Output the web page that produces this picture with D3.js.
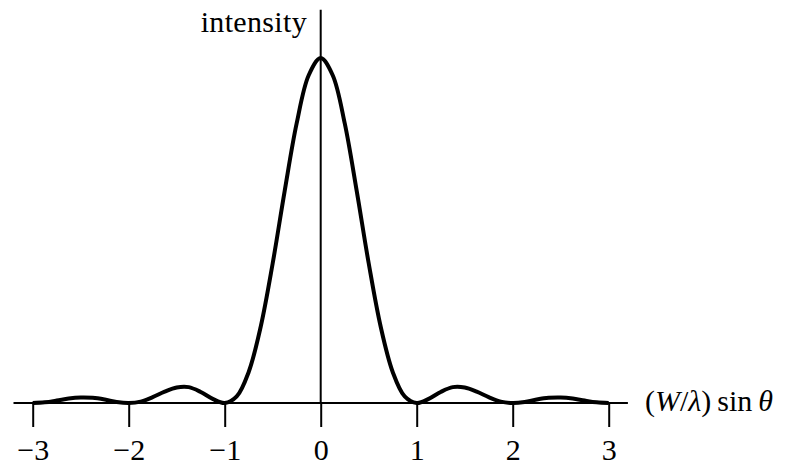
<!DOCTYPE html>
<html>
<head>
<meta charset="utf-8">
<script src="https://cdn.jsdelivr.net/npm/d3@7"></script>
<style>
  body { margin: 0; background: #fff; }
  svg text { font-family: "Liberation Serif", "DejaVu Serif", serif; fill: #000; }
</style>
</head>
<body>
<div class="chart"></div>
<script>
// positions along the axis, (W/lambda) sin theta
var xs = [-3, -2.875, -2.75, -2.625, -2.5, -2.375, -2.25, -2.125,
          -2, -1.875, -1.75, -1.625, -1.5, -1.375, -1.25, -1.125,
          -1, -0.875, -0.75, -0.625, -0.5, -0.375, -0.25, -0.125,
          0, 0.125, 0.25, 0.375, 0.5, 0.625, 0.75, 0.875,
          1, 1.125, 1.25, 1.375, 1.5, 1.625, 1.75, 1.875,
          2, 2.125, 2.25, 2.375, 2.5, 2.625, 2.75, 2.875, 3];

// intensity (peak = 1)
var intensity = [0, 0.002, 0.007, 0.013, 0.016, 0.015, 0.010, 0.003,
                 0, 0.004, 0.017, 0.033, 0.045, 0.046, 0.032, 0.012,
                 0, 0.019, 0.090, 0.221, 0.405, 0.615, 0.811, 0.950,
                 1, 0.950, 0.811, 0.615, 0.405, 0.221, 0.090, 0.019,
                 0, 0.012, 0.032, 0.046, 0.045, 0.033, 0.017, 0.004,
                 0, 0.003, 0.010, 0.015, 0.016, 0.013, 0.007, 0.002, 0];

var tickValues = [-3, -2, -1, 0, 1, 2, 3];
var xAxisExtent = [-3.2, 3.2];
var yAxisTop = 1.14;

var width = 788, height = 466;

var svg = d3.select(".chart").append("svg")
    .attr("width", width)
    .attr("height", height);

// scales
var x = d3.scaleLinear().domain([-3, 3]).range([32.7, 608.7]);
var y = d3.scaleLinear().domain([0, 1]).range([403, 58]);

// horizontal axis line
svg.append("line")
    .attr("x1", x(xAxisExtent[0])).attr("x2", x(xAxisExtent[1]))
    .attr("y1", y(0)).attr("y2", y(0))
    .attr("stroke", "#000").attr("stroke-width", 2);

// vertical axis line
svg.append("line")
    .attr("x1", x(0)).attr("x2", x(0))
    .attr("y1", y(0)).attr("y2", y(yAxisTop))
    .attr("stroke", "#000").attr("stroke-width", 2);

// ticks + labels
var xAxis = svg.append("g")
    .attr("transform", "translate(0," + y(0) + ")")
    .call(d3.axisBottom(x)
        .tickValues(tickValues)
        .tickSize(24)
        .tickSizeOuter(0)
        .tickFormat(d3.format("d")));

xAxis.select(".domain").remove();
xAxis.selectAll(".tick line")
    .attr("stroke", "#000")
    .attr("stroke-width", 2);
xAxis.selectAll(".tick text")
    .attr("y", 57)
    .attr("dy", null)
    .attr("fill", "#000")
    .style("font-size", "30px");
xAxis.attr("font-family", null).attr("font-size", null);

// the curve
var line = d3.line()
    .x(function(d, i) { return x(xs[i]); })
    .y(function(d) { return y(d); })
    .curve(d3.curveCatmullRom.alpha(0.5));

svg.append("path")
    .datum(intensity)
    .attr("fill", "none")
    .attr("stroke", "#000")
    .attr("stroke-width", 4)
    .attr("stroke-linejoin", "round")
    .attr("d", line);

// axis titles
svg.append("text")
    .attr("x", x(0) - 14)
    .attr("y", 32)
    .attr("text-anchor", "end")
    .style("font-size", "30px")
    .attr("textLength", 106)
    .text("intensity");

var xt = svg.append("text")
    .attr("x", 645)
    .attr("y", 411)
    .style("font-size", "30px");
xt.append("tspan").text("(");
xt.append("tspan").style("font-style", "italic").text("W");
xt.append("tspan").text("/");
xt.append("tspan").style("font-style", "italic").text("λ");
xt.append("tspan").text(")\u2009sin\u2009");
xt.append("tspan").style("font-style", "italic").text("θ");
</script>
</body>
</html>
